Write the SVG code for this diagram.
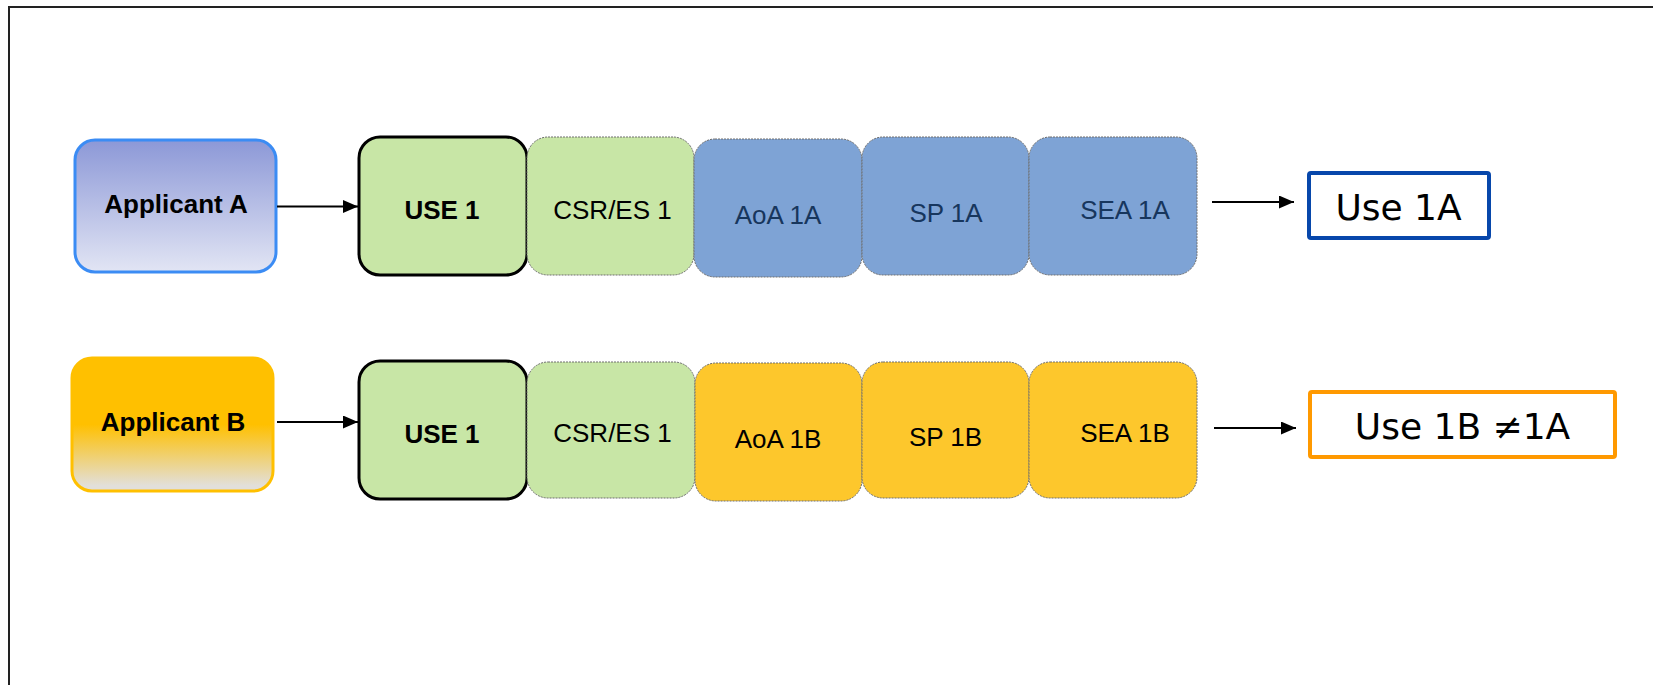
<svg xmlns="http://www.w3.org/2000/svg" width="1653" height="685" viewBox="0 0 1653 685">
  <style>
    .frame { fill: none; stroke: #222; stroke-width: 2; }
    .lbl { font-family: "Liberation Sans", Arial, sans-serif; font-size: 26px; text-anchor: middle; }
    .bold { font-weight: bold; }
    .use { fill: #c8e6a6; stroke: #000; stroke-width: 3; }
    .step { stroke: #6e6e6e; stroke-width: 1; stroke-dasharray: 2 1; }
    .green { fill: #c8e6a6; }
    .blue { fill: #7ea3d5; }
    .gold { fill: #fdc72c; }
    .navy { fill: #17365d; }
    .result { font-family: "DejaVu Sans", Verdana, sans-serif; font-size: 36px; text-anchor: middle; fill: #000; }
    .conn { stroke: #000; stroke-width: 2; fill: none; marker-end: url(#arrow); }
  </style>
  <defs>
    <linearGradient id="gradA" x1="0" y1="0" x2="0" y2="1">
      <stop offset="0" stop-color="#8c98d7"/>
      <stop offset="1" stop-color="#e2e5f4"/>
    </linearGradient>
    <linearGradient id="gradB" x1="0" y1="0" x2="0" y2="1">
      <stop offset="0" stop-color="#ffc000"/>
      <stop offset="0.5" stop-color="#ffc000"/>
      <stop offset="0.96" stop-color="#e2dfda"/>
      <stop offset="1" stop-color="#e2dfda"/>
    </linearGradient>
    <marker id="arrow" viewBox="0 0 15 13" refX="15" refY="6.5" markerWidth="15" markerHeight="13" markerUnits="userSpaceOnUse" orient="auto">
      <path d="M0,0 L15,6.5 L0,13 z" fill="#000"/>
    </marker>
  </defs>

  <rect width="1653" height="685" fill="#fff"/>
  <!-- outer frame, open on the right and bottom -->
  <path class="frame" d="M9,690 V7 H1660"/>

  <!-- row A -->
  <g id="applicant-a">
    <rect x="75" y="140" width="201" height="132" rx="20" fill="url(#gradA)" stroke="#3b8cf4" stroke-width="3"/>
    <text class="lbl bold" x="176" y="213">Applicant A</text>
  </g>
  <g id="use1-a">
    <rect class="use" x="359" y="137" width="168" height="138" rx="21"/>
    <text class="lbl bold" x="442" y="219" font-size="25">USE 1</text>
  </g>
  <g id="csr-a">
    <rect class="step green" x="527" y="137" width="167" height="138" rx="21"/>
    <text class="lbl" x="612.5" y="219">CSR/ES 1</text>
  </g>
  <g id="aoa-a">
    <rect class="step blue" x="694" y="139" width="168" height="138" rx="21"/>
    <text class="lbl navy" x="778" y="224">AoA 1A</text>
  </g>
  <g id="sp-a">
    <rect class="step blue" x="862" y="137" width="167" height="138" rx="21"/>
    <text class="lbl navy" x="946" y="222">SP 1A</text>
  </g>
  <g id="sea-a">
    <rect class="step blue" x="1029" y="137" width="168" height="138" rx="21"/>
    <text class="lbl navy" x="1125" y="219">SEA 1A</text>
  </g>
  <g id="result-a">
    <rect x="1309" y="173" width="180" height="65" rx="2" fill="#fff" stroke="#0747ab" stroke-width="4"/>
    <text class="result" x="1398.5" y="220">Use 1A</text>
  </g>

  <!-- row B -->
  <g id="applicant-b">
    <rect x="72" y="358" width="201" height="133" rx="20" fill="url(#gradB)" stroke="#ffc000" stroke-width="3"/>
    <text class="lbl bold" x="173" y="431">Applicant B</text>
  </g>
  <g id="use1-b">
    <rect class="use" x="359" y="361" width="168" height="138" rx="21"/>
    <text class="lbl bold" x="442" y="443" font-size="25">USE 1</text>
  </g>
  <g id="csr-b">
    <rect class="step green" x="527" y="362" width="168" height="136" rx="21"/>
    <text class="lbl" x="612.5" y="442">CSR/ES 1</text>
  </g>
  <g id="aoa-b">
    <rect class="step gold" x="695" y="363" width="167" height="138" rx="21"/>
    <text class="lbl" x="778" y="448">AoA 1B</text>
  </g>
  <g id="sp-b">
    <rect class="step gold" x="862" y="362" width="167" height="136" rx="21"/>
    <text class="lbl" x="945.5" y="446">SP 1B</text>
  </g>
  <g id="sea-b">
    <rect class="step gold" x="1029" y="362" width="168" height="136" rx="21"/>
    <text class="lbl" x="1125" y="442">SEA 1B</text>
  </g>
  <g id="result-b">
    <rect x="1310" y="392" width="305" height="65" rx="2" fill="#fff" stroke="#ff9900" stroke-width="4"/>
    <text class="result" x="1462.5" y="439">Use 1B ≠1A</text>
  </g>

  <!-- connectors -->
  <g id="connectors">
    <line class="conn" x1="277" y1="206.5" x2="358" y2="206.5"/>
    <line class="conn" x1="1212" y1="202" x2="1294" y2="202"/>
    <line class="conn" x1="277" y1="422" x2="358" y2="422"/>
    <line class="conn" x1="1214" y1="428" x2="1296" y2="428"/>
  </g>
</svg>
